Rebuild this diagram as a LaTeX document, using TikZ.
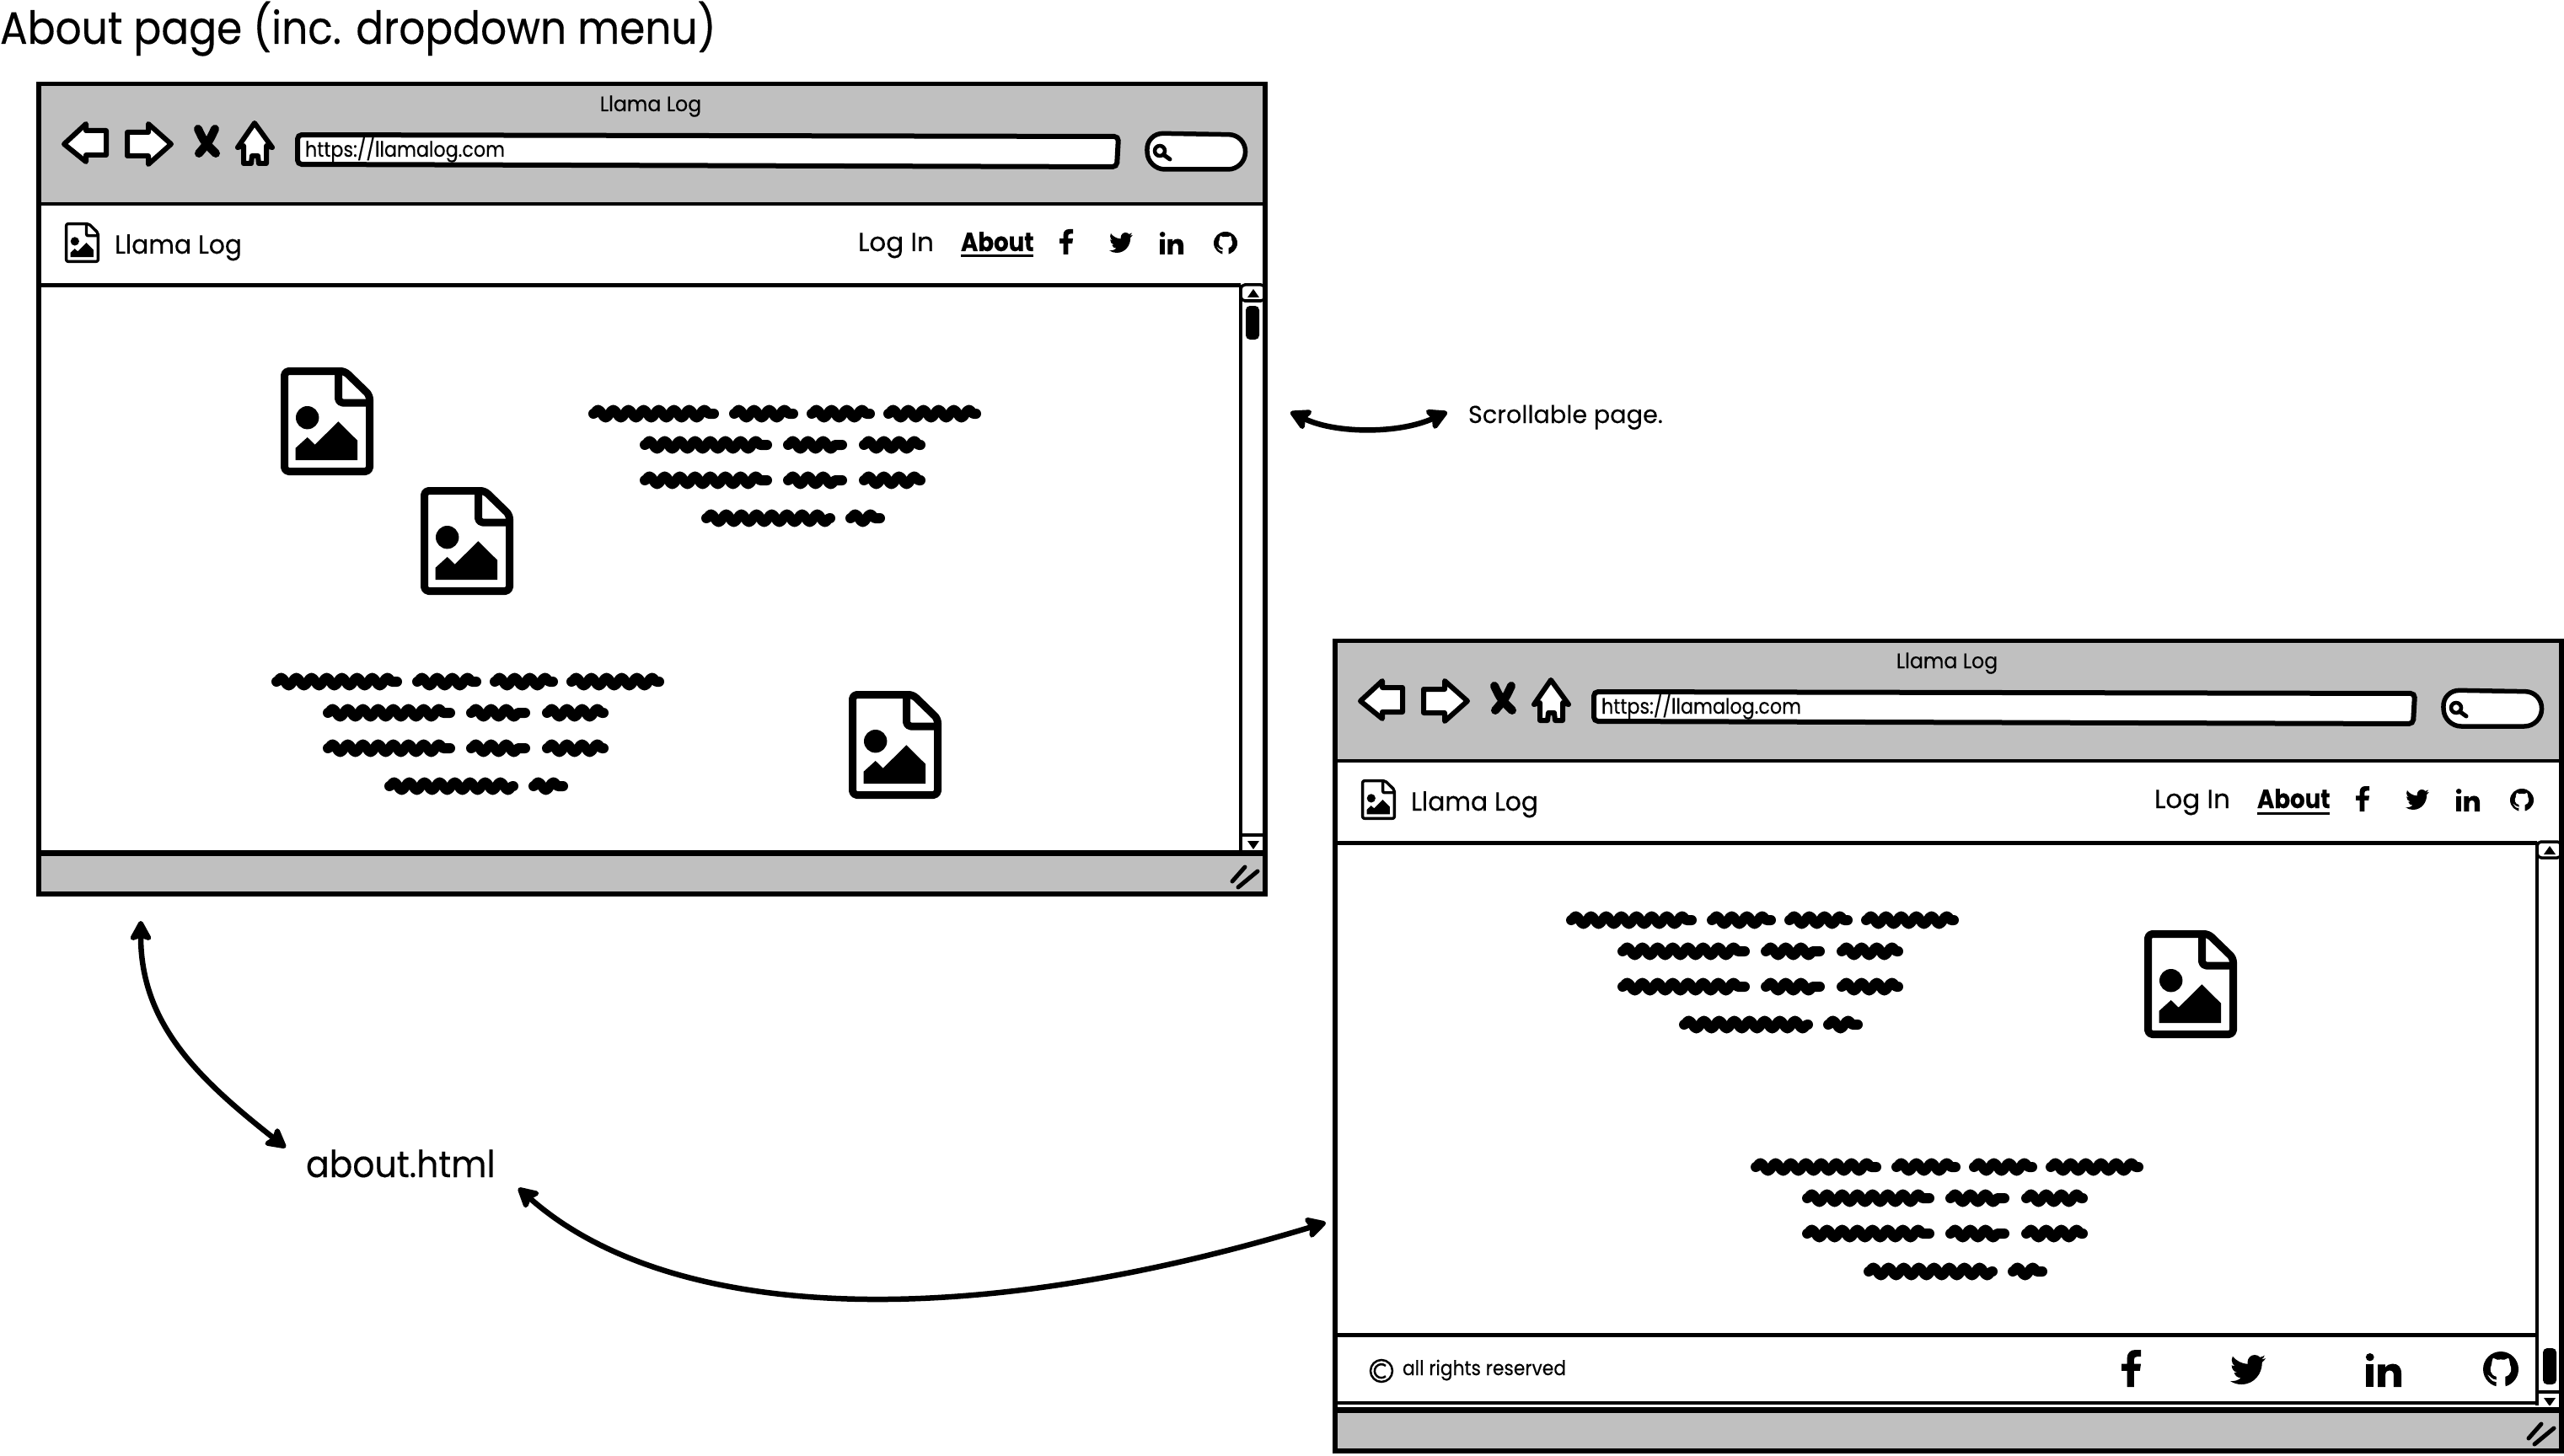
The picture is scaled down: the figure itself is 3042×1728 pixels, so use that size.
\documentclass[tikz,border=0pt]{standalone}
\usepackage{fontspec}
\setmainfont{Poppins}
\usetikzlibrary{arrows.meta,decorations.pathmorphing}
\definecolor{barGrey}{HTML}{C0C0C0}
\tikzset{
  x=1pt,y=-1pt,
  txt/.style={inner sep=0pt,outer sep=0pt,anchor=base west,text=black},
  heavy/.style={draw=black,line width=#1},
  tool/.style={draw=black,fill=white,line width=6pt,line join=round},
  squig/.style={draw=black,line width=12pt,line cap=round,line join=round,decorate,decoration={snake,amplitude=4.5pt,segment length=18pt,pre length=0pt,post length=0pt}},
  link/.style={draw=black,line width=6.5pt,{Stealth[length=28pt,width=30pt,inset=5pt,round]}-{Stealth[length=28pt,width=30pt,inset=5pt,round]}},
  grip/.style={draw=black,line width=5pt,line cap=round},
}
\newcommand{\fs}[2]{\fontsize{#1}{#1}\selectfont\addfontfeature{FakeStretch=#2,FakeBold=0.25}}
% image-file icon: origin at top-left, native box 110 x 128
\newcommand{\docicon}[6][9pt]{%
  \begin{scope}[shift={(#2,#3)},xscale=#4/110,yscale=#5/128]
    \fill[white] (4,4) -- (75,4) -- (105,33) -- (105,124) -- (4,124) -- cycle;
    \draw[line width=#1,line join=round,rounded corners=#6]
      (4.5,4.5) -- (76,4.5) -- (105.5,33) -- (105.5,123.5) -- (4.5,123.5) -- cycle;
    \draw[line width=#1,line join=round,rounded corners=#6]
      (68.5,4.5) -- (68.5,42) -- (105.5,42);
    \fill (31.7,59.7) circle[x radius=13.7,y radius=13.7];
    \fill (17.7,110) -- (17.7,95.7) -- (31.7,83) -- (40.7,91.7) -- (68.3,64.3) -- (91,86.7) -- (91,110) -- cycle;
  \end{scope}}
\newcommand{\fbicon}[4]{%
  \begin{scope}[shift={(#1,#2)},xscale=#3/14,yscale=#4/24]
    \fill (4,24) -- (4,13.5) -- (0,13.5) -- (0,9) -- (4,9) -- (4,5.5) .. controls (4,2) and (6.5,0) .. (10,0) -- (14,0) -- (14,4.3) -- (11.5,4.3) .. controls (9.6,4.3) and (9,5.3) .. (9,6.5) -- (9,9) -- (14,9) -- (13.3,13.5) -- (9,13.5) -- (9,24) -- cycle;
  \end{scope}}
\newcommand{\birdicon}[4]{%
  \begin{scope}[shift={(#1,#2)},xscale=#3/24,yscale=#4/19.5,yshift=2.25pt]
    \fill (24,4.59) .. controls (23.1,5.0) and (22.1,5.25) .. (21.13,5.35)
      .. controls (22.15,4.73) and (22.93,3.77) .. (23.29,2.62)
      .. controls (22.34,3.18) and (21.29,3.58) .. (20.16,3.81)
      .. controls (19.27,2.85) and (18.0,2.25) .. (16.6,2.25)
      .. controls (13.9,2.25) and (11.7,4.45) .. (11.7,7.17)
      .. controls (11.7,7.55) and (11.75,7.93) .. (11.78,8.29)
      .. controls (7.69,8.09) and (4.07,6.13) .. (1.64,3.16)
      .. controls (1.22,3.88) and (0.97,4.73) .. (0.97,5.64)
      .. controls (0.97,7.35) and (1.84,8.85) .. (3.16,9.73)
      .. controls (2.35,9.7) and (1.6,9.48) .. (0.93,9.12)
      -- (0.93,9.18)
      .. controls (0.93,11.56) and (2.63,13.55) .. (4.88,14.0)
      .. controls (4.17,14.2) and (3.4,14.22) .. (2.67,14.09)
      .. controls (3.3,16.05) and (5.12,17.47) .. (7.27,17.5)
      .. controls (5.6,18.82) and (3.5,19.6) .. (1.17,19.6)
      .. controls (0.78,19.6) and (0.39,19.58) .. (0,19.54)
      .. controls (2.18,20.93) and (4.77,21.75) .. (7.56,21.75)
      .. controls (16.6,21.75) and (21.56,14.25) .. (21.56,7.77)
      .. controls (21.56,7.56) and (21.56,7.35) .. (21.55,7.14)
      .. controls (22.5,6.45) and (23.34,5.6) .. (24,4.59) -- cycle;
  \end{scope}}
\newcommand{\inicon}[4]{%
  \begin{scope}[shift={(#1,#2)},xscale=#3/24,yscale=#4/24]
    \fill (2.7,2.8) circle[x radius=2.8,y radius=2.8];
    \fill (0,8) rectangle (5.4,24);
    \fill (8,8) -- (13,8) -- (13,10.3) .. controls (14.2,8.5) and (16,7.5) .. (18,7.5) .. controls (22,7.5) and (24,10) .. (24,14.5) -- (24,24) -- (18.8,24) -- (18.8,15.5) .. controls (18.8,13.5) and (17.8,12.3) .. (16,12.3) .. controls (14.2,12.3) and (13.2,13.6) .. (13.2,15.5) -- (13.2,24) -- (8,24) -- cycle;
  \end{scope}}
\newcommand{\ghicon}[4]{%
  \begin{scope}[shift={(#1,#2)},xscale=#3/24,yscale=#4/24]
    \fill (12,12) circle[x radius=12,y radius=12];
    \fill[white] (6.8,4.4) -- (9.6,5.6) .. controls (11,5.3) and (13,5.3) .. (14.4,5.6) -- (17.2,4.4) .. controls (18,6.5) and (18.3,8) .. (18.2,8.8) .. controls (19.8,11.5) and (19.3,16) .. (15,17) .. controls (15,19) and (15,21) .. (15.2,24) -- (8.8,24) .. controls (9,21) and (9,19) .. (9,17) .. controls (4.7,16) and (4.2,11.5) .. (5.8,8.8) .. controls (5.7,8) and (6,6.5) .. (6.8,4.4) -- cycle;
    \fill[white] (3,15.8) .. controls (5,16.5) and (5.5,19) .. (9,19.2) -- (9,20.5) .. controls (5,20.6) and (4.5,17.2) .. (3,15.8) -- cycle;
  \end{scope}}
\newcommand{\scribbleblock}[2]{%
  \begin{scope}[shift={(#1,#2)}]
    \foreach \a/\b/\y in {704/847/491, 871/941/491, 963/1032/491, 1054/1158/491,
                          765/910/528, 935/999/528, 1025/1092/528,
                          765/910/570, 935/999/570, 1025/1092/570,
                          838/985/615, 1009/1044/615}
      \draw[squig] (\a,\y) -- (\b,\y);
  \end{scope}}
% browser frame, drawn with window-1 coordinates
\newcommand{\browser}[3]{%
  \begin{scope}[shift={(#2,#3)}]
    \fill[white] (46,99) rectangle (1501,1062);
    \fill[barGrey] (46,99) rectangle (1501,242);
    \fill[barGrey] (46,1012) rectangle (1501,1062);
    \draw[heavy=4.5pt] (46,242) -- (1501,242);
    \draw[heavy=5pt] (46,339) -- (1472,339);
    \draw[heavy=5.5pt] (46,99.5) -- (1501,99.5) -- (1501,1061) -- (46,1061) -- cycle;
    % scrollbar
    \draw[heavy=3.5pt] (1472,339) -- (1472,1010);
    \draw[heavy=3.5pt,rounded corners=5pt] (1472,357) -- (1472,338) -- (1501,338) -- (1501,357) -- cycle;
    \draw[heavy=3.5pt] (1472,991) -- (1501,991);
    \fill (1480,353) -- (1494,353) -- (1487,343) -- cycle;
    \fill (1480,998) -- (1494,998) -- (1487,1008) -- cycle;
    \draw[heavy=7pt] (46,1012) -- (1501,1012);
    % toolbar
    \draw[tool] (76,171) -- (102,147) -- (102,155) -- (126,155) -- (126,184) -- (102,184) -- (102,192) -- cycle;
    \draw[tool] (203,171) -- (176,147) -- (176,157) -- (151,157) -- (151,185) -- (176,185) -- (176,195) -- cycle;
    \draw[black,line width=10pt,line cap=round] (235,153) .. controls (242,168) .. (256,182);
    \draw[black,line width=10pt,line cap=round] (255,153) .. controls (248,168) .. (236,182);
    \draw[tool] (302,146) -- (323,175) -- (316,173) -- (316,194) -- (307,194) -- (306,185) -- (299,185) -- (298,194) -- (289,194) -- (289,173) -- (282,175) -- cycle;
    \draw[heavy=6pt,fill=white,rounded corners=5pt] (353,160) -- (1327,162) -- (1325,198) -- (353,195) -- cycle;
    \draw[heavy=5.5pt,fill=white,rounded corners=20pt] (1360,158) -- (1478,160) -- (1477,201) -- (1362,201) -- cycle;
    \draw[heavy=4.5pt] (1376,179) circle[radius=6pt];
    \draw[black,line width=5pt,line cap=round] (1381,184) -- (1388,189);
    % texts
    \node[txt,anchor=base] (#1title) at (772,132) {\fs{25}{0.95}Llama Log};
    \node[txt] (#1url) at (362,186) {\fs{25}{0.89}https://llamalog.com};
    \docicon[3.4pt]{77}{264}{41}{48}{2pt}
    \node[txt] (#1brand) at (136,301) {\fs{31}{0.96}Llama Log};
    \node[txt] (#1login) at (1018,298) {\fs{31}{1}Log In};
    \node[txt] (#1about) at (1140,298) {\fs{31}{0.89}\bfseries About};
    \draw[heavy=3pt] (1140,304) -- (1226,304);
    \fbicon{1257}{272}{16}{30}
    \birdicon{1316}{276}{28}{24}
    \inicon{1376}{275}{28}{27}
    \ghicon{1440}{275}{28}{27}
    % resize grip
    \draw[grip] (1462,1046) -- (1477,1029);
    \draw[grip] (1469,1053) -- (1492,1034);
  \end{scope}}
\begin{document}
\begin{tikzpicture}
\useasboundingbox (0,0) rectangle (3042,1728);
\fill[white] (0,0) rectangle (3042,1728);
\node[txt] (heading) at (0,52) {\fs{54}{0.9}About page (inc. dropdown menu)};

% window 1
\browser{a}{0}{0}
\fill[rounded corners=5pt] (1478,363) rectangle (1494,403);
\scribbleblock{0}{0}
\scribbleblock{-376}{318}
\docicon{333}{436}{110}{128}{5pt}
\docicon{499}{578}{110}{128}{5pt}
\docicon{1007}{820}{110}{128}{5pt}

% window 2
\browser{b}{1538}{661}
\draw[heavy=5pt] (1584,1584) -- (3010,1584);
\draw[heavy=4.5pt] (1584,1665) -- (3010,1665);
\draw[white,line width=2pt] (1587,1668.5) -- (3036,1668.5);
\fill[rounded corners=5pt] (3017,1600) rectangle (3033,1643);
\scribbleblock{1160}{601}
\scribbleblock{1379}{894}
\docicon{2544}{1104}{110}{128}{5pt}
\draw[heavy=2.5pt] (1639,1627) circle[radius=13pt];
\draw[heavy=2.5pt] (1644,1621) arc[start angle=50,end angle=310,radius=8pt];
\node[txt] (rights) at (1664,1632) {\fs{24}{0.91}all rights reserved};
\fbicon{2517}{1602}{23}{44}
\birdicon{2646}{1608}{42}{35}
\inicon{2807}{1606}{42}{40}
\ghicon{2946}{1604}{42}{42}

% annotations
\node[txt] (scrollnote) at (1742,502) {\fs{29}{0.99}Scrollable page.};
\node[txt] (aboutfile) at (363,1397) {\fs{44}{0.93}about.html};

\coordinate (sL) at (1531,489);
\coordinate (sR) at (1717,489);
\coordinate (w1) at (167,1093);
\coordinate (f1) at (339,1362);
\coordinate (f2) at (615,1410);
\coordinate (w2) at (1573,1451);
\draw[link] (sL) .. controls (1585,515) and (1660,515) .. (sR);
\draw[link] (w1) .. controls (167,1215) and (235,1280) .. (f1);
\draw[link] (f2) .. controls (790,1565) and (1130,1585) .. (w2);
\end{tikzpicture}
\end{document}
